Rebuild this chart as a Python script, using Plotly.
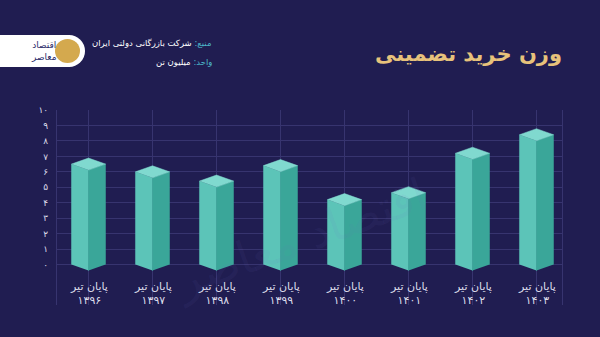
import plotly.graph_objects as go

# ---- data ----
periods = ["پایان تیر"] * 8
years = ["۱۳۹۶", "۱۳۹۷", "۱۳۹۸", "۱۳۹۹", "۱۴۰۰", "۱۴۰۱", "۱۴۰۲", "۱۴۰۳"]
values = [6.5, 6.0, 5.4, 6.4, 4.2, 4.65, 7.2, 8.4]
y_ticks = list(range(0, 11))
y_ticktext = ["۰", "۱", "۲", "۳", "۴", "۵", "۶", "۷", "۸", "۹", "۱۰"]
title = "وزن خرید تضمینی"
source_label = "منبع:"
source_text = "شرکت بازرگانی دولتی ایران"
unit_label = "واحد:"
unit_text = "میلیون تن"
brand = "اقتصاد<br>معاصر"

# ---- style ----
BG = "#201d51"
GRID = "#37346f"
LEFT = "#5cc4b8"
RIGHT = "#3aa699"
TOP = "#80d9cf"
GOLD = "#e7c27b"
TEAL = "#4cb6c9"
TXT = "#dcdcea"
FONT = "DejaVu Sans"

W, H = 600, 337
L, R, T, B = 57, 562, 110, 305
HW = 0.266   # bar half width (category units)
D = 0.39     # perspective depth (value units)

def paper(px, py):
    return (px - L) / (R - L), (B - py) / (B - T)

fig = go.Figure()

for i, v in enumerate(values):
    faces = [
        ([i - HW, i - HW, i, i], [0, v, v - D, -D], LEFT),
        ([i, i, i + HW, i + HW], [-D, v - D, v, 0], RIGHT),
        ([i - HW, i, i + HW, i], [v, v + D, v, v - D], TOP),
    ]
    for xs, ys, c in faces:
        fig.add_trace(go.Scatter(
            x=xs, y=ys, fill="toself", fillcolor=c, mode="lines",
            line=dict(width=0.5, color=c), hoverinfo="skip", showlegend=False))

# x labels
for i, (p, yr) in enumerate(zip(periods, years)):
    fig.add_annotation(x=i, xref="x", y=paper(0, 293)[1], yref="paper",
                       text=f"{p}<br>{yr}", showarrow=False, yanchor="middle",
                       font=dict(family=FONT, size=11, color=TXT))

# title
tx, ty = paper(564, 54)
fig.add_annotation(x=tx, y=ty, xref="paper", yref="paper", xanchor="right", yanchor="middle",
                   text=f"<b>{title}</b>", showarrow=False,
                   font=dict(family=FONT, size=21, color=GOLD))

# source & unit (logical order; browser bidi renders RTL)
sx, sy = paper(214, 43)
fig.add_annotation(x=sx, y=sy, xref="paper", yref="paper", xanchor="right", yanchor="middle",
                   text=f"<span style='color:{TEAL}'>{source_label}</span> {source_text}",
                   showarrow=False, font=dict(family=FONT, size=8.5, color="#ffffff"))
ux, uy = paper(214, 62)
fig.add_annotation(x=ux, y=uy, xref="paper", yref="paper", xanchor="right", yanchor="middle",
                   text=f"<span style='color:{TEAL}'>{unit_label}</span> {unit_text}",
                   showarrow=False, font=dict(family=FONT, size=8.5, color="#ffffff"))

# logo pill
x0, y0 = paper(-10, 35)
x1, y1 = paper(70, 67)
fig.add_shape(type="rect", xref="paper", yref="paper", x0=x0, y0=y0, x1=x1, y1=y1,
              fillcolor="white", line_width=0, layer="above")
cx0, cy0 = paper(53, 35)
cx1, cy1 = paper(85, 67)
fig.add_shape(type="circle", xref="paper", yref="paper", x0=cx0, y0=cy0, x1=cx1, y1=cy1,
              fillcolor="white", line_width=0, layer="above")
gx0, gy0 = paper(55, 39)
gx1, gy1 = paper(80, 63)
fig.add_shape(type="circle", xref="paper", yref="paper", x0=gx0, y0=gy0, x1=gx1, y1=gy1,
              fillcolor="#d4a94e", line_width=0, layer="above")
bx, by = paper(29, 51)
fig.add_annotation(x=bx, y=by, xref="paper", yref="paper", text=brand, showarrow=False,
                   font=dict(family=FONT, size=9, color="#2a2a6a"), yanchor="middle")

# faint watermark
wx, wy = paper(300, 165)
fig.add_annotation(x=wx, y=wy, xref="paper", yref="paper", text="اقتصاد معاصر", showarrow=False,
                   textangle=-20, font=dict(family=FONT, size=46, color="rgba(120,110,200,0.08)"))

fig.update_layout(
    width=W, height=H,
    margin=dict(l=L, r=W - R, t=T, b=H - B),
    paper_bgcolor=BG, plot_bgcolor=BG,
    xaxis=dict(range=[(L - 88.5) / 64, (R - 88.5) / 64], tickvals=list(range(len(values))),
               showticklabels=False, showgrid=True, gridcolor=GRID, gridwidth=1,
               zeroline=False, showline=False, fixedrange=True),
    yaxis=dict(range=[-(B - 264.5) / 15.45, 10], tickvals=y_ticks, ticktext=y_ticktext,
               showgrid=True, gridcolor=GRID, gridwidth=1, zeroline=False,
               showline=True, mirror=True, linecolor=GRID, linewidth=1,
               ticks="", ticklabelstandoff=6,
               tickfont=dict(family=FONT, size=9, color=TXT), fixedrange=True),
    font=dict(family=FONT),
)

fig.write_html("out.html")
